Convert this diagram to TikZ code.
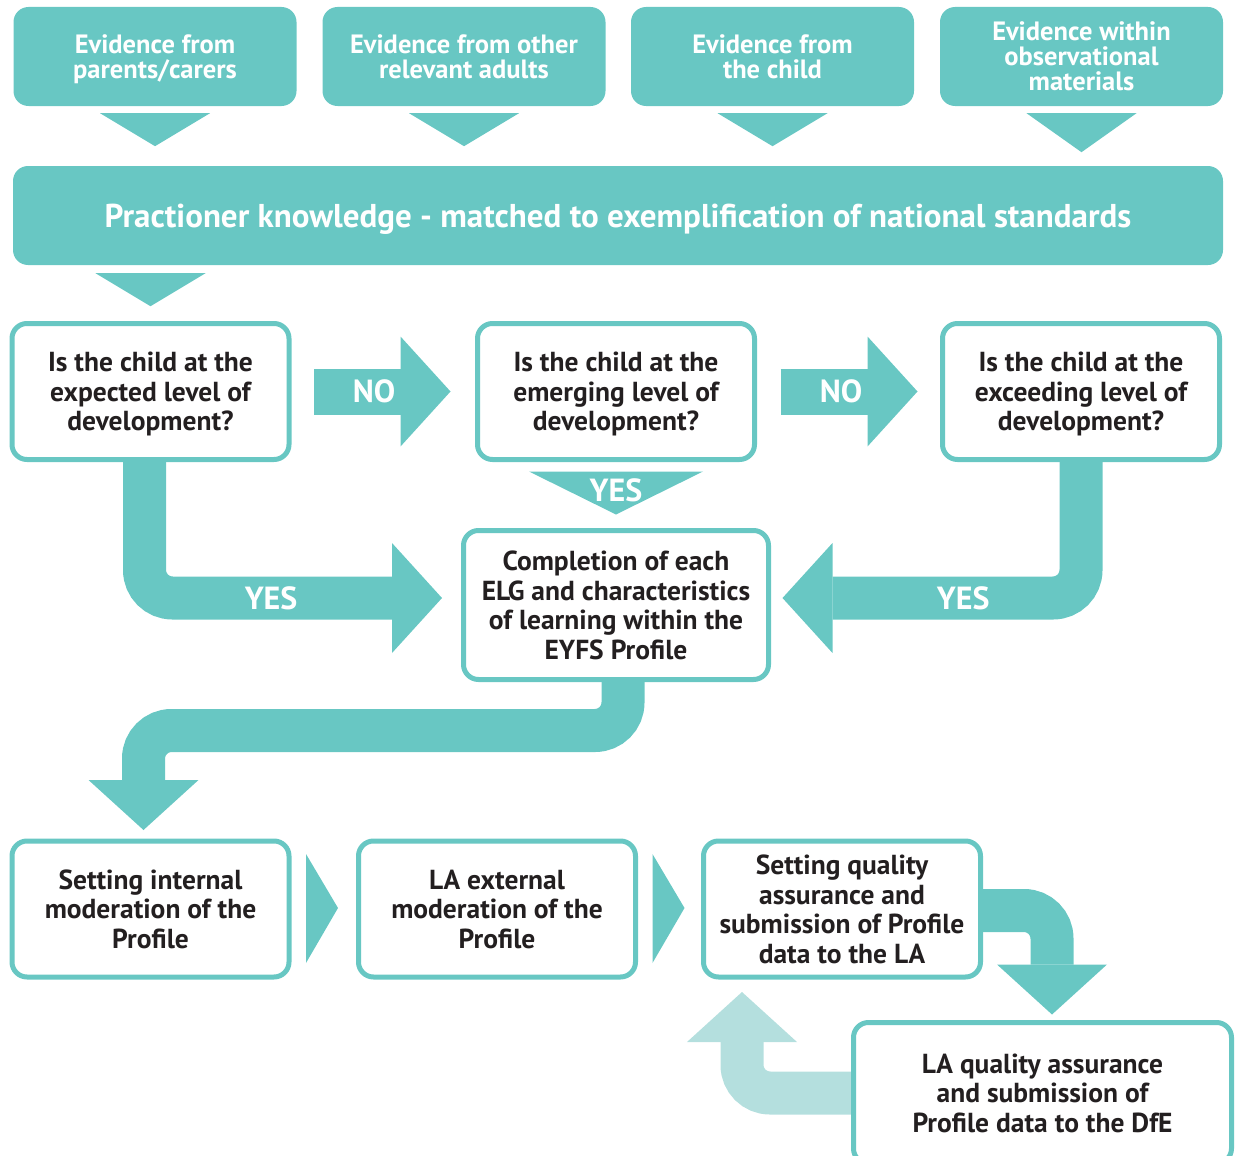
\documentclass[tikz,border=0pt]{standalone}
\usepackage{fontspec}
\setmainfont{PT Sans}
\usetikzlibrary{arrows.meta,calc,backgrounds}
\definecolor{eyteal}{HTML}{68C7C3}
\definecolor{eylight}{HTML}{B4DFDE}
\definecolor{eytext}{HTML}{231F20}
\newcommand\evfont{\fontsize{26.5}{25}\selectfont\bfseries}
\newcommand\barfont{\fontsize{33}{33}\selectfont\bfseries}
\newcommand\qfont{\fontsize{27.5}{29.5}\selectfont\bfseries}
\newcommand\tagfont{\fontsize{32}{32}\selectfont\bfseries}
\begin{document}
\begin{tikzpicture}[x=1pt,y=-1pt,line join=round]

		\tikzset{evbox/.style={rectangle,rounded corners=15pt,fill=eyteal,text=white,font=\evfont,align=center,inner sep=0pt,minimum width=283pt,minimum height=99pt,text depth=0pt},
		qbox/.style={rectangle,rounded corners=15pt,draw=eyteal,line width=5pt,fill=white,text=eytext,font=\qfont,align=center,inner sep=0pt,minimum width=277pt,minimum height=136pt,text depth=0pt},
		band/.style={draw=eyteal,line width=43pt,rounded corners=28pt,-{Triangle[width=110pt,length=50pt,line width=0pt]}},
		tag/.style={text=white,font=\tagfont,inner sep=0pt}}

		\useasboundingbox (0,0) rectangle (1235,1156);

		% evidence
		\node[evbox] (e1) at (155,56.5) {Evidence from\\parents/carers};
		\node[evbox] (e2) at (464,56.5) {Evidence from other\\relevant adults};
		\node[evbox] (e3) at (772.5,56.5) {Evidence from\\the child};
		\node[evbox] (e4) at (1081.5,56.5) {Evidence within\\observational\\materials};
		\node[evbox,minimum width=1210pt,font=\barfont] (bar) at (618,215.5) {Practioner knowledge - matched to exemplification of national standards};
		\foreach \n/\d in {e1/40,e2/40,e3/40,e4/46}
		\fill[eyteal] ($(\n.south)+(-55,7)$) -- ($(\n.south)+(55,7)$) -- ($(\n.south)+(0,\d)$) -- cycle;

		% questions
		\node[qbox] (q1) at (150.5,391.5) {Is the child at the\\expected level of\\development?};
		\node[qbox] (q2) at (616,391.5) {Is the child at the\\emerging level of\\development?};
		\node[qbox] (q3) at (1081,391.5) {Is the child at the\\exceeding level of\\development?};
		\node[qbox,minimum width=305pt,minimum height=149pt] (comp) at (616,605) {Completion of each\\ELG and characteristics\\of learning within the\\EYFS Profile};
		\fill[eyteal] ($(bar.south -| q1.north)+(-55,8)$) -- ($(bar.south -| q1.north)+(55,8)$) -- ($(bar.south -| q1.north)+(0,41)$) -- cycle;
		\fill[eyteal] ($(q2.south)+(-87,9.5)$) -- ($(q2.south)+(87,9.5)$) -- ($(q2.south)+(0,52.5)$) -- cycle;
		\node[tag] (yes2) at ($(q2.south)+(0,28.5)$) {YES};

		% moderation
		\node[qbox] (m1) at (150.5,909) {Setting internal\\moderation of the\\Profile};
		\node[qbox] (m2) at (497,909) {LA external\\moderation of the\\Profile};
		\node[qbox] (m3) at (842,909) {Setting quality\\assurance and\\submission of Profile\\data to the LA};
		\node[qbox,minimum width=378pt,minimum height=141pt] (la) at (1042.5,1093) {LA quality assurance\\and submission of\\Profile data to the DfE};
		\foreach \a in {m1,m2}
		\fill[eyteal] ($(\a.east)+(14.5,-55)$) -- ($(\a.east)+(14.5,54)$) -- ($(\a.east)+(46.5,-1)$) -- cycle;

		\begin{scope}[on background layer]
		\draw[band,line width=46pt,shorten <=22.5pt,shorten >=24.5pt] (q1.east) -- node[tag,pos=0.45] {NO} (q2.west);
		\draw[band,line width=46pt,shorten <=23.5pt,shorten >=22.5pt] (q2.east) -- node[tag,pos=0.46] {NO} (q3.west);
		\draw[band,shorten >=19pt] ([xshift=-6pt]q1.south) |- node[tag,pos=0.7] {YES} ([yshift=7pt]comp.west);
		\draw[band,shorten >=11.5pt] (q3.south) |- node[tag,pos=0.69] {YES} ([yshift=7pt]comp.east);
		\draw[band,shorten >=8.5pt] ([xshift=7pt]comp.south) |- ($(m1.north)+(-7,-108)$) -- ([xshift=-7pt]m1.north);
		\draw[band,shorten >=5.5pt] ([yshift=-1.5pt]m3.east) -| ([xshift=9.5pt]la.north);
		\draw[band,draw=eylight,shorten >=12.5pt] (la.west) -| ($(m3.south)+(-100,0)$);
		\end{scope}
		\end{tikzpicture}
\end{document}
